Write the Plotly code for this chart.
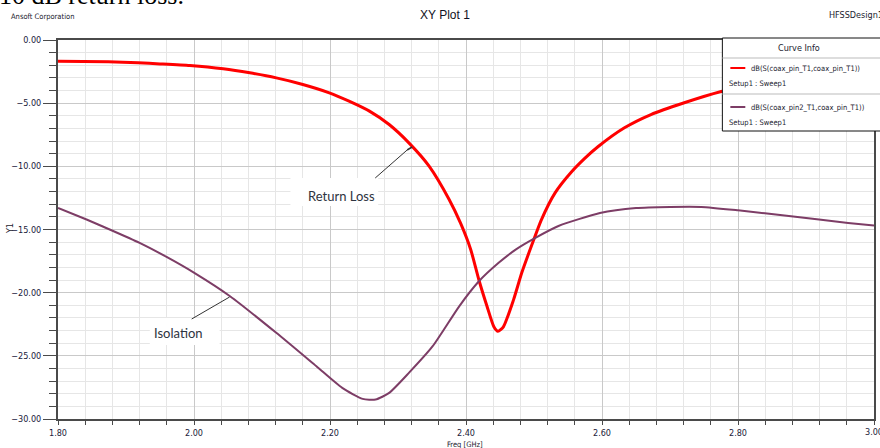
import plotly.graph_objects as go

# ---- data ----
freq_rl = [1.800, 1.874, 1.918, 1.950, 1.994, 2.043, 2.082, 2.121, 2.160, 2.199,
           2.228, 2.258, 2.287, 2.316, 2.346, 2.375, 2.392, 2.407, 2.419,
           2.431, 2.441, 2.447, 2.455, 2.470, 2.482, 2.497, 2.511, 2.531,
           2.555, 2.575, 2.594, 2.633, 2.672, 2.721, 2.774, 2.830, 2.890, 2.950, 3.000]
rl_db = [-1.68, -1.73, -1.81, -1.89, -2.02, -2.28, -2.60, -3.00, -3.52, -4.18,
         -4.84, -5.63, -6.69, -8.14, -10.0, -12.6, -14.5, -16.6, -19.0,
         -21.1, -22.7, -23.06, -22.70, -20.55, -18.43, -16.19, -14.21, -12.10,
         -10.45, -9.35, -8.45, -6.95, -5.90, -4.97, -4.10, -3.45, -2.95, -2.55, -2.25]

freq_iso = [1.800, 1.842, 1.876, 1.920, 1.959, 2.001, 2.053, 2.121, 2.180, 2.218,
            2.248, 2.267, 2.287, 2.316, 2.351, 2.390, 2.419, 2.448, 2.473, 2.502,
            2.536, 2.597, 2.650, 2.700, 2.746, 2.800, 2.878, 2.962, 3.000]
iso_db = [-13.29, -14.21, -15.00, -16.06, -17.15, -18.45, -20.28, -23.18, -25.83, -27.54,
          -28.41, -28.46, -27.93, -26.35, -24.24, -21.08, -19.10, -17.64, -16.59, -15.66,
          -14.72, -13.70, -13.30, -13.21, -13.21, -13.48, -13.95, -14.48, -14.69]

series_names = ["dB(S(coax_pin_T1,coax_pin_T1))", "dB(S(coax_pin2_T1,coax_pin_T1))"]
setup_label = "Setup1 : Sweep1"
x_ticks = [1.8, 2.0, 2.2, 2.4, 2.6, 2.8, 3.0]
y_ticks = [0, -5, -10, -15, -20, -25, -30]

RED = "#ff0000"
PURPLE = "#7d3d66"
NARROW = "Liberation Sans Narrow, Arial Narrow, DejaVu Sans Condensed, Liberation Sans, Arial"

W, H = 880, 448
L, R, T, B = 58, 4, 40, 29
PW = W - L - R
PH = H - T - B


def PX(px):
    return (px - L) / PW


def PY(py):
    return (H - B - py) / PH


fig = go.Figure()
fig.add_trace(go.Scatter(x=freq_rl, y=rl_db, mode="lines", name=series_names[0],
                         line=dict(color=RED, width=3, shape="spline", smoothing=0.6)))
fig.add_trace(go.Scatter(x=freq_iso, y=iso_db, mode="lines", name=series_names[1],
                         line=dict(color=PURPLE, width=2, shape="spline", smoothing=0.6)))

shapes = []
annotations = []

# white label boxes and leader lines
shapes.append(dict(type="rect", xref="paper", yref="paper", x0=PX(291), x1=PX(379),
                   y0=PY(206), y1=PY(178), fillcolor="white", line=dict(width=0), layer="above"))
shapes.append(dict(type="rect", xref="paper", yref="paper", x0=PX(150), x1=PX(220),
                   y0=PY(345), y1=PY(318), fillcolor="white", line=dict(width=0), layer="above"))
shapes.append(dict(type="line", xref="paper", yref="paper", x0=PX(376), y0=PY(178),
                   x1=PX(408), y1=PY(150), line=dict(color="#333333", width=1), layer="above"))
shapes.append(dict(type="line", xref="paper", yref="paper", x0=PX(408), y0=PY(150),
                   x1=PX(413), y1=PY(147), line=dict(color="#333333", width=1.5), layer="above"))
shapes.append(dict(type="line", xref="paper", yref="paper", x0=PX(192), y0=PY(319),
                   x1=PX(230), y1=PY(297), line=dict(color="#333333", width=1), layer="above"))

annotations.append(dict(text="Return Loss", xref="paper", yref="paper", x=PX(342), y=PY(196),
                        xanchor="center", yanchor="middle", showarrow=False,
                        font=dict(family="Lato, Open Sans, sans-serif", size=13, color="#2e3440")))
annotations.append(dict(text="Isolation", xref="paper", yref="paper", x=PX(179), y=PY(333),
                        xanchor="center", yanchor="middle", showarrow=False,
                        font=dict(family="Lato, Open Sans, sans-serif", size=13, color="#2e3440")))

# legend box (Curve Info)
shapes.append(dict(type="rect", xref="paper", yref="paper", x0=PX(724), x1=PX(884),
                   y0=PY(131), y1=PY(38), fillcolor="white", line=dict(color="#111111", width=1),
                   layer="above"))
shapes.append(dict(type="line", xref="paper", yref="paper", x0=PX(724), x1=PX(884),
                   y0=PY(58), y1=PY(58), line=dict(color="#bbbbbb", width=1), layer="above"))
shapes.append(dict(type="line", xref="paper", yref="paper", x0=PX(724), x1=PX(884),
                   y0=PY(94), y1=PY(94), line=dict(color="#bbbbbb", width=1), layer="above"))
shapes.append(dict(type="line", xref="paper", yref="paper", x0=PX(732), x1=PX(747),
                   y0=PY(68), y1=PY(68), line=dict(color=RED, width=2), layer="above"))
shapes.append(dict(type="line", xref="paper", yref="paper", x0=PX(732), x1=PX(747),
                   y0=PY(107), y1=PY(107), line=dict(color=PURPLE, width=2), layer="above"))

small = dict(family=NARROW, size=9, color="#1a1a2e")
tiny = dict(family=NARROW, size=7.5, color="#1a1a2e")
annotations.append(dict(text="Curve Info", xref="paper", yref="paper", x=PX(801), y=PY(48),
                        xanchor="center", yanchor="middle", showarrow=False, font=small))
annotations.append(dict(text=series_names[0], xref="paper", yref="paper", x=PX(751), y=PY(68),
                        xanchor="left", yanchor="middle", showarrow=False, font=tiny))
annotations.append(dict(text=setup_label, xref="paper", yref="paper", x=PX(729), y=PY(84),
                        xanchor="left", yanchor="middle", showarrow=False, font=tiny))
annotations.append(dict(text=series_names[1], xref="paper", yref="paper", x=PX(751), y=PY(107),
                        xanchor="left", yanchor="middle", showarrow=False, font=tiny))
annotations.append(dict(text=setup_label, xref="paper", yref="paper", x=PX(729), y=PY(122),
                        xanchor="left", yanchor="middle", showarrow=False, font=tiny))

# header texts
annotations.append(dict(text="XY Plot 1", xref="paper", yref="paper", x=PX(446), y=PY(15),
                        xanchor="center", yanchor="middle", showarrow=False,
                        font=dict(family="Liberation Sans, Arial", size=12, color="#111122")))
annotations.append(dict(text="Ansoft Corporation", xref="paper", yref="paper", x=PX(9), y=PY(17),
                        xanchor="left", yanchor="middle", showarrow=False, font=tiny))
annotations.append(dict(text="HFSSDesign1", xref="paper", yref="paper", x=PX(829), y=PY(15),
                        xanchor="left", yanchor="middle", showarrow=False, font=small))
annotations.append(dict(text="10 dB return loss.", xref="paper", yref="paper", x=PX(-3), y=PY(12),
                        xanchor="left", yanchor="bottom", showarrow=False,
                        font=dict(family="Liberation Serif, Times New Roman, serif", size=26,
                                  color="#000000")))

# last x tick label sits on the window edge (plotly drops it), so draw it explicitly
annotations.append(dict(text="%.2f" % x_ticks[-1], xref="x", yref="paper", x=x_ticks[-1],
                        y=PY(432), xanchor="center", yanchor="middle", showarrow=False,
                        font=dict(family=NARROW, size=9, color="#1a1a3a")))

# axis titles
annotations.append(dict(text="Freq [GHz]", xref="paper", yref="paper", x=PX(466), y=PY(444),
                        xanchor="center", yanchor="middle", showarrow=False, font=tiny))
annotations.append(dict(text="Y1", xref="paper", yref="paper", x=PX(10), y=PY(229),
                        xanchor="center", yanchor="middle", showarrow=False, textangle=-90,
                        font=small))

axis_common = dict(showline=True, linecolor="#4a4a4a", linewidth=2, mirror=True,
                   ticks="outside", tickcolor="#4a4a4a", zeroline=False,
                   gridcolor="#c9c9c9", gridwidth=1,
                   tickfont=dict(family=NARROW, size=9, color="#1a1a3a"))

fig.update_layout(
    width=W, height=H,
    margin=dict(l=L, r=R, t=T, b=B, pad=0),
    paper_bgcolor="white", plot_bgcolor="white",
    showlegend=False,
    shapes=shapes, annotations=annotations,
    xaxis=dict(range=[1.8, 3.0], tickvals=x_ticks, tickformat=".2f", ticklen=4,
               minor=dict(dtick=0.04, tick0=1.8, showgrid=True, gridcolor="#e6e6e6",
                          ticks="outside", ticklen=4, tickcolor="#4a4a4a"),
               **axis_common),
    yaxis=dict(range=[-30, 0], tickvals=y_ticks, tickformat=".2f", ticklen=13,
               minor=dict(dtick=1, tick0=0, showgrid=True, gridcolor="#e6e6e6",
                          ticks="outside", ticklen=7, tickcolor="#4a4a4a"),
               **axis_common),
)

fig.write_html("out.html")
